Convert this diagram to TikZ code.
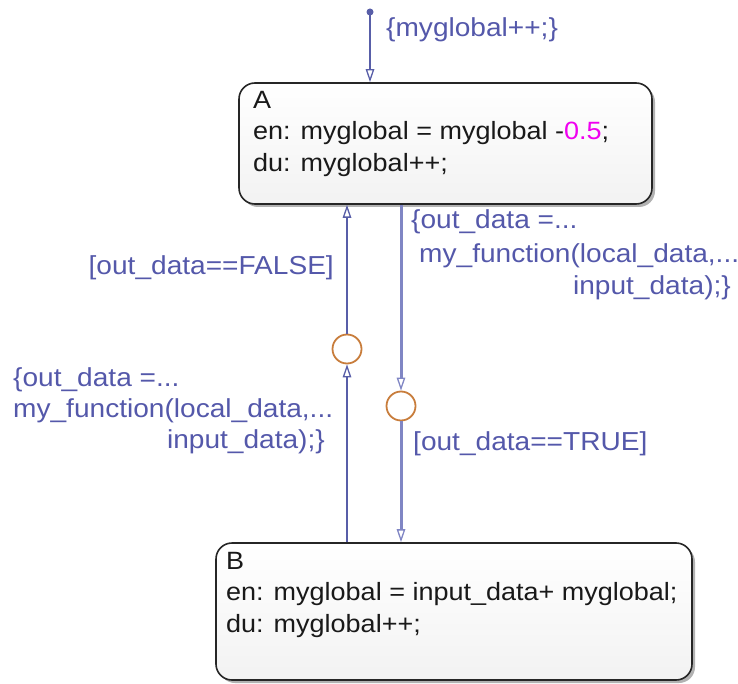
\documentclass[tikz,border=0pt]{standalone}
\usepackage{fontspec}
\setmainfont{Liberation Sans}[FakeStretch=1.08]
\usetikzlibrary{arrows.meta,shadows}
\definecolor{trcol}{RGB}{88,94,168}
\definecolor{trlight}{RGB}{128,134,196}
\definecolor{labcol}{RGB}{84,88,170}
\definecolor{juncol}{RGB}{200,125,60}
\definecolor{numcol}{RGB}{240,0,240}
\tikzset{
  statebox/.style={draw=black!85, line width=1.6pt, rounded corners=16pt, top color=white, bottom color=black!5,
    drop shadow={shadow xshift=3pt, shadow yshift=-3pt, opacity=0.5, fill=black!60}, inner sep=0pt},
  statetext/.style={anchor=north west, align=left, inner sep=0pt, text=black!90, font=\fontsize{25}{31.5}\selectfont},
  lab/.style={inner sep=0pt, text=labcol, font=\fontsize{26}{31.5}\selectfont},
  junction/.style={circle, draw=juncol, line width=1.8pt, minimum size=29pt, inner sep=0pt},
  tip/.style={-{Triangle[open, length=13pt, width=8.5pt, line width=1.3pt]}},
  trthin/.style={draw=trcol, line width=1.6pt, tip},
  trthick/.style={draw=trlight, line width=3pt, tip},
}
\begin{document}
\begin{tikzpicture}[x=1pt, y=-1pt]
\useasboundingbox (0,0) rectangle (738,684);
% states
\node[statebox, minimum width=413pt, minimum height=121pt] (A) at (445.5,143.5) {};
\node[statetext] (Atext) at (253,91) {A\\en: myglobal = myglobal -\textcolor{numcol}{0.5};\\du: myglobal++;};
\node[statebox, minimum width=476pt, minimum height=137pt] (B) at (454,611.5) {};
\node[statetext] (Btext) at (226,552) {B\\en: myglobal = input\_data+ myglobal;\\du: myglobal++;};
% junctions
\node[junction] (J1) at (347,349) {};
\node[junction] (J2) at (401,406) {};
% default transition
\coordinate (d) at (370,12);
\fill[trcol] (d) circle (3.5pt);
\draw[trthin] (d) -- (A.north -| d);
\node[lab, anchor=west] (l0) at (386,30) {\{myglobal++;\}};
% left path B -> J1 -> A
\draw[trthin] (B.north -| J1) -- (J1.south);
\draw[trthin] (J1.north) -- (A.south -| J1);
% right path A -> J2 -> B
\draw[trthick] (A.south -| J2) -- (J2.north);
\draw[trthick] (J2.south) -- (B.north -| J2);
% labels
\node[lab, anchor=west] (r1) at (411,222) {\{out\_data =...};
\node[lab, anchor=west] (r2) at (419,256) {my\_function(local\_data,...};
\node[lab, anchor=east] (r3) at (731,288) {input\_data);\}};
\node[lab, anchor=east] (lf) at (334,268) {[out\_data==FALSE]};
\node[lab, anchor=west] (k1) at (13,380) {\{out\_data =...};
\node[lab, anchor=west] (k2) at (13,411) {my\_function(local\_data,...};
\node[lab, anchor=east] (k3) at (325,442) {input\_data);\}};
\node[lab, anchor=west] (lt) at (413,444) {[out\_data==TRUE]};
\end{tikzpicture}
\end{document}
